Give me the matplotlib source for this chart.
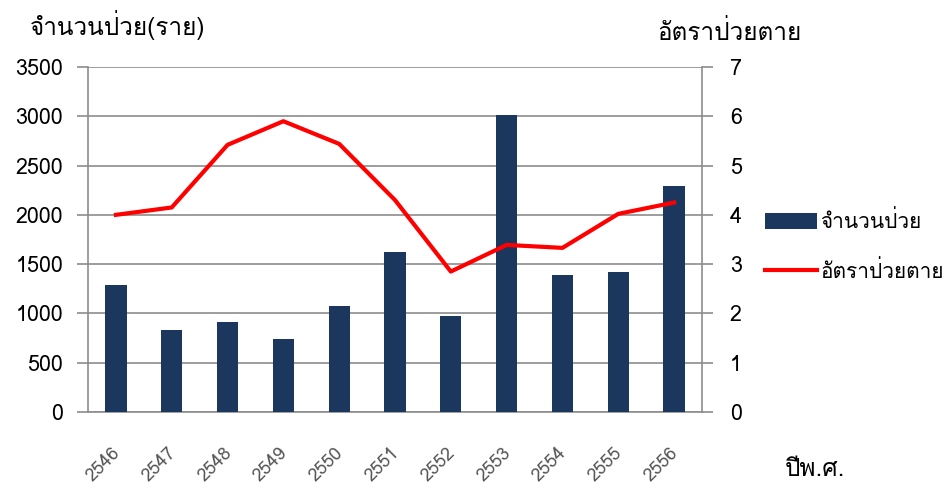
import matplotlib
matplotlib.use("Agg")
import matplotlib.pyplot as plt
from matplotlib import font_manager
from matplotlib.ft2font import FT2Font
from matplotlib.lines import Line2D
from matplotlib.patches import Patch
import matplotlib.transforms as mtransforms

# ---- data ----
years = ["2546", "2547", "2548", "2549", "2550", "2551", "2552", "2553", "2554", "2555", "2556"]
cases = [1285, 832, 910, 740, 1078, 1626, 974, 3015, 1393, 1417, 2289]
fatality_rate = [4.00, 4.15, 5.42, 5.90, 5.44, 4.30, 2.85, 3.39, 3.33, 4.02, 4.25]
left_ticks = [0, 500, 1000, 1500, 2000, 2500, 3000, 3500]
right_ticks = [0, 1, 2, 3, 4, 5, 6, 7]

# ---- find a font with Thai glyphs ----
thai_family = None
for f in font_manager.fontManager.ttflist:
    try:
        cm = FT2Font(f.fname).get_charmap()
        if 0x0E08 in cm and 0x0E33 in cm:
            thai_family = f.name
            break
    except Exception:
        pass
fams = ([thai_family] if thai_family else []) + ["DejaVu Sans"]
plt.rcParams["font.family"] = fams

fig = plt.figure(figsize=(9.46, 4.93), dpi=100)
ax = fig.add_axes([88 / 946, (493 - 412) / 493, (702 - 88) / 946, (412 - 67) / 493])
ax2 = ax.twinx()

x = list(range(len(years)))
ax.bar(x, cases, width=0.38, color="#1b375e", zorder=3)
ax.set_xlim(-0.5, len(years) - 0.5)
ax.set_ylim(0, 3500)
ax.set_yticks(left_ticks)
ax.set_yticklabels([str(v) for v in left_ticks], fontsize=15.5, color="black")
ax.grid(axis="y", color="#8c8c8c", linewidth=1.2, zorder=0)
ax.set_xticks(x)
ax.set_xticklabels(years, rotation=45, ha="right", va="top", rotation_mode="anchor",
                   fontsize=13, color="#555555")
ax.tick_params(axis="x", length=0, pad=23)
ax.tick_params(axis="y", length=8, color="#8c8c8c", width=1.2, pad=10)
shift = mtransforms.ScaledTranslation(-5 / 100, 0, fig.dpi_scale_trans)
for lab in ax.get_xticklabels():
    lab.set_transform(lab.get_transform() + shift)
for s in ["top", "right"]:
    ax.spines[s].set_visible(False)
ax.spines["left"].set_color("#8c8c8c")
ax.spines["left"].set_linewidth(1.2)
ax.spines["bottom"].set_color("#8c8c8c")
ax.spines["bottom"].set_linewidth(1.2)

ax2.plot(x, fatality_rate, color="#ff0000", linewidth=3, zorder=4)
ax2.set_ylim(0, 7)
ax2.set_yticks(right_ticks)
ax2.set_yticklabels([str(v) for v in right_ticks], fontsize=15.5, color="black")
ax2.tick_params(axis="y", length=8, color="#8c8c8c", width=1.2, pad=12)
for s in ["top", "left", "bottom"]:
    ax2.spines[s].set_visible(False)
ax2.spines["right"].set_color("#8c8c8c")
ax2.spines["right"].set_linewidth(1.2)

fig.text(30 / 946, 1 - 25 / 493, "จำนวนป่วย(ราย)", fontsize=17.5, va="center", ha="left")
fig.text(657 / 946, 1 - 33 / 493, "อัตราป่วยตาย", fontsize=17.5, va="center", ha="left")
fig.text(785 / 946, 1 - 470 / 493, "ปีพ.ศ.", fontsize=17.5, va="center", ha="left")

handles = [Patch(facecolor="#1b375e"), Line2D([0], [0], color="#ff0000", linewidth=3)]
fig.legend(handles, ["จำนวนป่วย", "อัตราป่วยตาย"], loc="center left",
           bbox_to_anchor=(757 / 946, 1 - 246 / 493), frameon=False, fontsize=15,
           handlelength=2.5, handleheight=0.8, labelspacing=1.35, handletextpad=0.15,
           borderaxespad=0)

fig.savefig("out.png", dpi=100)
